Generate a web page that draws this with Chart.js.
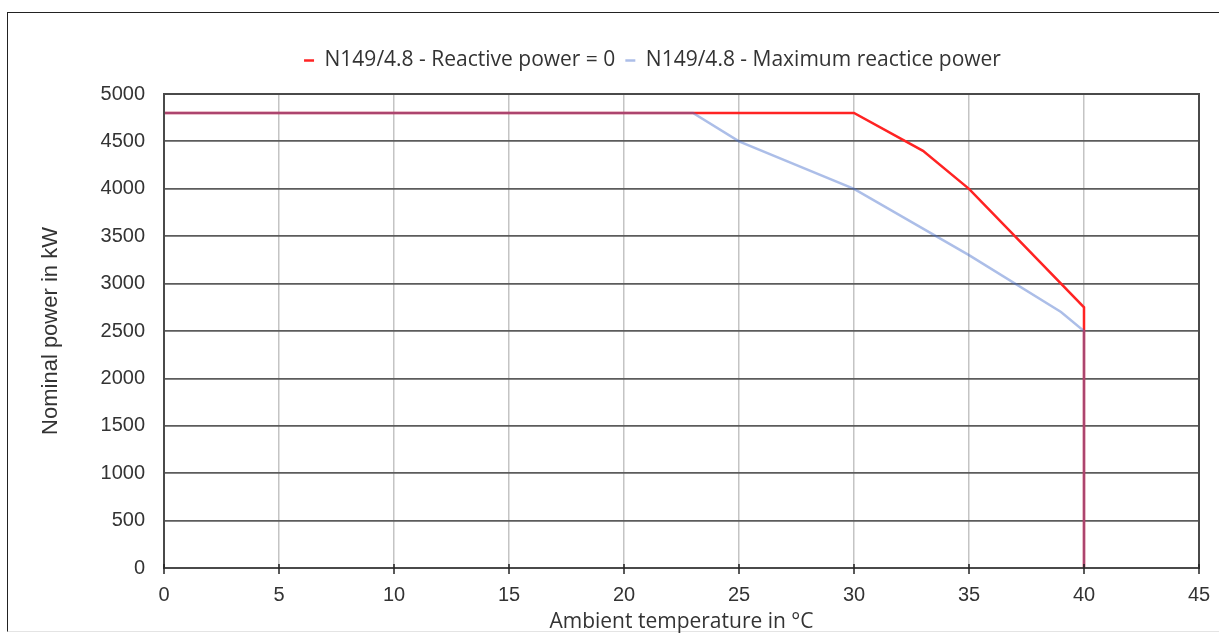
<!DOCTYPE html>
<html>
<head>
<meta charset="utf-8">
<script src="https://cdn.jsdelivr.net/npm/chart.js@4.4.1/dist/chart.umd.min.js"></script>
<style>
    html, body { margin: 0; padding: 0; background: #fff; }
    #wrap { position: relative; width: 1219px; height: 638px; overflow: hidden; }
    #frame {
        position: absolute; left: 7px; top: 12px; width: 1300px; height: 618px;
        border-left: 1.5px solid #222; border-top: 1.5px solid #222;
        border-bottom: 1px solid #e4e4e4;
    }
    canvas { position: absolute; left: 0; top: 0; }
</style>
</head>
<body>
<div id="wrap">
    <div id="frame"></div>
    <canvas id="chart" width="1219" height="638"></canvas>
</div>
<script>
// ========================================
// データ
// ========================================

// 無効電力 = 0
const reactiveZeroTemp  = [0, 30, 33, 35, 40, 40];
const reactiveZeroPower = [4800, 4800, 4400, 4000, 2750, 0];

// 最大無効電力
const maxReactiveTemp  = [0, 23, 25, 30, 35, 39, 40, 40];
const maxReactivePower = [4800, 4800, 4500, 4000, 3300, 2700, 2500, 0];

const seriesNames = [
    'N149/4.8 - Reactive power = 0',
    'N149/4.8 - Maximum reactice power'
];

const toPoints = (xs, ys) => xs.map((x, i) => ({ x: x, y: ys[i] }));

// ========================================
// プラグイン: 枠線と x 軸の目盛り、凡例の位置調整
// ========================================

const frameAndTicks = {
    id: 'frameAndTicks',
    afterLayout(chart) {
        // 凡例を少し右へ寄せる（元図に合わせる）
        chart.legend.left += 36;
        chart.legend.right += 36;
    },
    afterDraw(chart) {
        const { ctx, chartArea: a, scales } = chart;
        ctx.save();
        ctx.strokeStyle = '#4a4a4a';
        ctx.lineWidth = 2;
        ctx.strokeRect(a.left, a.top, a.right - a.left, a.bottom - a.top);

        // x 軸の目盛り（軸をまたぐ短い線）
        ctx.strokeStyle = '#222';
        ctx.lineWidth = 1.5;
        scales.x.ticks.forEach(t => {
            const px = scales.x.getPixelForValue(t.value);
            ctx.beginPath();
            ctx.moveTo(px, a.bottom - 4);
            ctx.lineTo(px, a.bottom + 6);
            ctx.stroke();
        });
        ctx.restore();
    }
};

// ========================================
// チャート
// ========================================

const ctx = document.getElementById('chart').getContext('2d');

new Chart(ctx, {
    type: 'scatter',
    data: {
        datasets: [{
            // index 0 は最前面に描画される
            label: seriesNames[1],
            data: toPoints(maxReactiveTemp, maxReactivePower),
            xAxisID: 'x',
            yAxisID: 'y',
            showLine: true,
            borderColor: 'rgba(70, 110, 205, 0.45)',
            backgroundColor: 'rgba(70, 110, 205, 0.45)',
            borderWidth: 2.5,
            pointRadius: 0,
            tension: 0
        }, {
            label: seriesNames[0],
            data: toPoints(reactiveZeroTemp, reactiveZeroPower),
            xAxisID: 'x',
            yAxisID: 'y',
            showLine: true,
            borderColor: '#ff2323',
            backgroundColor: '#ff2323',
            borderWidth: 2.5,
            pointRadius: 0,
            tension: 0
        }]
    },
    options: {
        responsive: false,
        animation: false,
        layout: {
            padding: { top: 40, right: 20, bottom: 0, left: 34 }
        },
        plugins: {
            legend: {
                reverse: true,
                labels: {
                    usePointStyle: true,
                    pointStyle: 'line',
                    pointStyleWidth: 10,
                    padding: 10,
                    color: '#333',
                    font: { family: '"Open Sans", sans-serif', size: 21 }
                }
            },
            tooltip: { enabled: false }
        },
        scales: {
            // 凡例とプロットの間隔用（何も描かない）
            xTop: {
                type: 'linear',
                axis: 'x',
                position: 'top',
                min: 0,
                max: 45,
                afterFit: scale => { scale.height = 13; },
                ticks: { display: false },
                grid: { display: false },
                border: { display: false }
            },
            x: {
                type: 'linear',
                min: 0,
                max: 45,
                afterFit: scale => { scale.height = 70; },
                ticks: {
                    stepSize: 5,
                    padding: 3,
                    color: '#333',
                    font: { family: '"Liberation Sans", Arial, sans-serif', size: 20 }
                },
                grid: {
                    color: '#c4c4c4',
                    lineWidth: 1.5,
                    drawTicks: true,
                    tickLength: 12,
                    tickColor: 'rgba(0, 0, 0, 0)'
                },
                border: { color: '#333', width: 2 },
                title: {
                    display: true,
                    text: 'Ambient temperature in °C',
                    color: '#333',
                    padding: { top: 0, bottom: 3 },
                    font: { family: '"Open Sans", sans-serif', size: 21 }
                }
            },
            y: {
                min: 0,
                max: 5000,
                afterFit: scale => { scale.width = 130; },
                ticks: {
                    stepSize: 500,
                    padding: 19,
                    color: '#333',
                    font: { family: '"Liberation Sans", Arial, sans-serif', size: 20 },
                    callback: value => value
                },
                grid: {
                    color: '#5c5c5c',
                    lineWidth: 1.8,
                    drawTicks: false
                },
                border: { color: '#4a4a4a', width: 2 },
                title: {
                    display: true,
                    text: 'Nominal power in kW',
                    color: '#333',
                    padding: 4,
                    font: { family: '"Liberation Sans", Arial, sans-serif', size: 22 }
                }
            }
        }
    },
    plugins: [frameAndTicks]
});
</script>
</body>
</html>
